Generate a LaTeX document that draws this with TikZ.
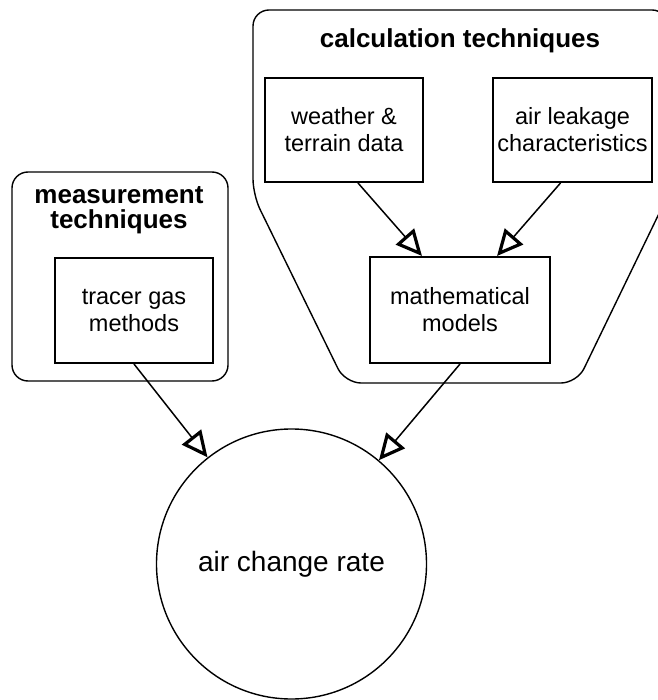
\documentclass[tikz,border=0pt]{standalone}
\usepackage{fontspec}
\setmainfont{Liberation Sans}
\usetikzlibrary{arrows.meta,calc}
\begin{document}
\begin{tikzpicture}[x=1pt,y=-1pt,
  group/.style={line width=1.4pt, rounded corners=16pt},
  itembox/.style={draw, line width=2pt, rectangle, align=center,
    font=\fontsize{23.5}{27}\selectfont, inner sep=0pt},
  title/.style={align=center, font=\fontsize{26}{25}\selectfont\bfseries, inner sep=0pt},
  flow/.style={line width=1.5pt, -{Triangle[open, length=26pt, width=24pt, line width=3.2pt]}}
]
\useasboundingbox (0,0) rectangle (657,700);
% group outlines
\draw[group] (253,195) -- (253,10) -- (668,10) -- (668,195) -- (577,383) -- (345,383) -- cycle;
\draw[group] (12,172) rectangle (228,381);
% titles
\node[title] (calc) at (460,41) {calculation techniques};
\node[title] (meas) at (119,210) {measurement\\techniques};
% boxes
\node[itembox, minimum width=158pt, minimum height=104pt] (w) at (344,130) {weather \&\\terrain data};
\node[itembox, minimum width=159pt, minimum height=104pt] (l) at (572.5,130) {air leakage\\characteristics};
\node[itembox, minimum width=180pt, minimum height=106pt] (m) at (460,310) {mathematical\\models};
\node[itembox, minimum width=158pt, minimum height=105pt] (t) at (134,310.5) {tracer gas\\methods};
\node[draw, circle, line width=1.4pt, minimum size=270pt, inner sep=0pt,
  font=\fontsize{28}{32}\selectfont] (acr) at (291.5,564) {air change rate};
% connectors
\draw[flow] ([xshift=14pt]w.south) -- ([xshift=-38pt]m.north);
\draw[flow] ([xshift=-12pt]l.south) -- ([xshift=37pt]m.north);
\draw[flow] (t.south) -- (acr);
\draw[flow] (m.south) -- (acr);
\end{tikzpicture}
\end{document}
